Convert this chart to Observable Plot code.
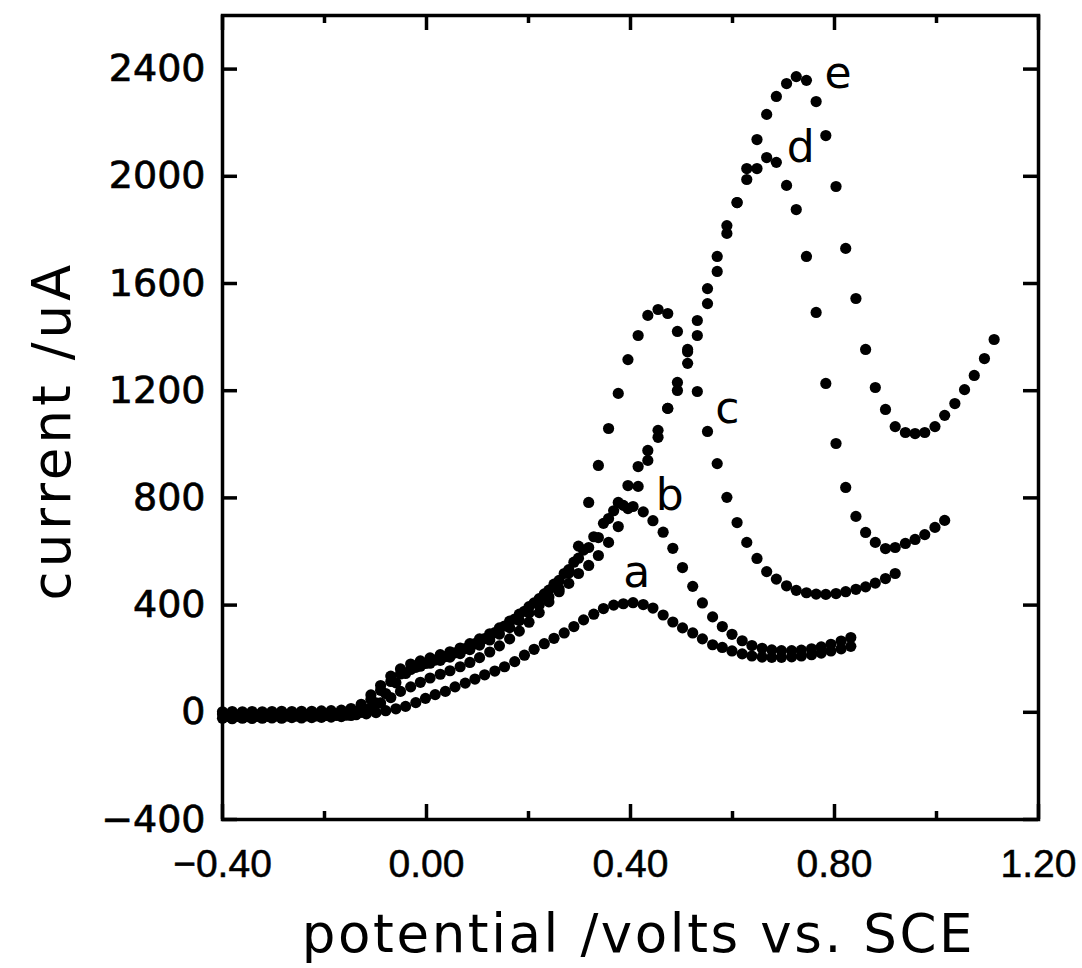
<!DOCTYPE html>
<html><head><meta charset="utf-8">
<script src="https://cdn.jsdelivr.net/npm/d3@7"></script>
<script src="https://cdn.jsdelivr.net/npm/@observablehq/plot@0.6"></script>
<style>
body{margin:0;background:#fff}
g[aria-label="y-axis tick label"] text{stroke:#000;stroke-width:0.7px}
g[aria-label="x-axis tick label"] text{stroke:#000;stroke-width:0.5px}
</style>
</head><body><div id="chart"></div>
<script>
// potentials (V vs SCE)
const potAB = [-0.390,-0.371,-0.351,-0.332,-0.312,-0.293,-0.274,-0.254,-0.235,-0.215,-0.196,-0.177,-0.157,-0.138,-0.118,-0.099,-0.080,-0.060,-0.041,-0.021,-0.002,0.017,0.037,0.056,0.076,0.095,0.114,0.134,0.153,0.173,0.192,0.211,0.231,0.250,0.270,0.289,0.308,0.328,0.347,0.367,0.386,0.405,0.425,0.444,0.464,0.483,0.502,0.522,0.541,0.561,0.580,0.599,0.619,0.638,0.658,0.677,0.696,0.716,0.735,0.755,0.774,0.793,0.813,0.832];
const potCDE = [-0.400,-0.381,-0.361,-0.342,-0.322,-0.303,-0.284,-0.264,-0.245,-0.225,-0.206,-0.187,-0.167,-0.148,-0.128,-0.109,-0.090,-0.070,-0.051,-0.031,-0.012,0.007,0.027,0.046,0.066,0.085,0.104,0.124,0.143,0.163,0.182,0.201,0.221,0.240,0.260,0.279,0.298,0.318,0.337,0.357,0.376,0.395,0.415,0.434,0.454,0.473,0.492,0.512,0.531,0.551,0.570,0.589,0.609,0.628,0.648,0.667,0.686,0.706,0.725,0.745,0.764,0.783,0.803,0.822,0.842,0.861,0.880,0.900,0.919,0.939,0.958,0.977,0.997,1.016,1.036,1.055,1.074,1.094,1.113];

// currents (uA)
const curA = [-15,-15,-16,-15,-15,-14,-14,-14,-13,-13,-12,-12,
  -11,-9,-6,-1,6,13,22,36,
  52,66,78,95,109,124,140,154,170,189,
  213,235,256,276,296,320,345,366,387,400,
  405,409,402,389,363,337,315,296,274,252,
  242,229,218,210,206,205,205,207,210,215,
  221,229,237,246];
const curB = [-10,-10,-11,-10,-10,-10,-9,-10,-9,-9,-9,-8,
  -8,-3,10,35,70,110,145,168,
  182,195,208,222,238,256,275,297,322,348,
  377,408,442,478,518,560,605,655,705,752,
  772,768,748,715,672,612,540,470,408,356,
  320,291,267,249,239,233,230,230,232,237,
  244,254,266,279];
const curC = [-22,-24,-22,-23,-22,-21,-22,-20,-21,-20,-19,-18,-16,-12,
  0,15,35,55,78,95,
  112,128,142,155,170,186,204,225,248,274,
  303,336,372,412,460,520,620,783,921,1059,
  1190,1316,1406,1481,1503,1488,1421,1302,1197,1048,
  928,802,708,634,574,525,497,472,455,446,
  441,440,443,450,459,468,482,499,518];
const curD = [-6,-6,-7,-6,-6,-6,-5,-6,-5,-5,-5,-4,-3,2,
  20,48,82,115,143,160,
  172,183,194,206,219,234,251,270,292,316,
  342,370,400,430,450,481,518,548,585,634,
  693,760,843,940,1026,1134,1201,1345,1406,1525,
  1645,1787,1902,1988,2029,2070,2052,1966,1876,1701,
  1492,1227,1003,839,731,671,634,611,615,630,
  645,663,690,716];
const curE = [2,3,2,3,2,3,4,3,4,4,5,6,8,14,
  30,65,100,135,162,180,
  192,203,215,226,240,256,274,293,315,340,
  366,394,424,456,492,532,575,615,652,723,
  783,846,917,977,1052,1134,1231,1354,1462,1581,
  1701,1816,1902,2029,2137,2231,2298,2346,2372,2358,
  2279,2152,1962,1731,1544,1354,1212,1130,1066,1044,
  1040,1044,1066,1108,1152,1204,1257,1320,1391];

const seriesNames = ["a","b","c","d","e"];
const seriesPot = [potAB, potAB, potCDE, potCDE, potCDE];
const seriesCur = [curA, curB, curC, curD, curE];

// curve labels (anchor = baseline centre)
const labelPot = [0.412, 0.477, 0.590, 0.734, 0.807];
const labelCur = [466, 753, 1078, 2052, 2328];

const xTicksMajor = [-0.4, 0, 0.4, 0.8, 1.2];
const xTicksMinor = [-0.2, 0.2, 0.6, 1.0];
const yTicks = [-400, 0, 400, 800, 1200, 1600, 2000, 2400];
const xTitle = "potential /volts vs. SCE";
const yTitle = "current /uA";

const points = seriesNames.flatMap((s, j) =>
  seriesCur[j].map((c, i) => ({series: s, potential: seriesPot[j][i], current: c})));
const labels = seriesNames.map((s, j) => ({name: s, potential: labelPot[j], current: labelCur[j]}));

const W = 1082, H = 968, mL = 222, mR = 44, mT = 15, mB = 149;
const iw = W - mL - mR, ih = H - mT - mB;

const chart = Plot.plot({
  width: W, height: H,
  marginLeft: mL, marginRight: mR, marginTop: mT, marginBottom: mB,
  style: {background: "white", color: "black", fontFamily: "DejaVu Sans"},
  x: {domain: [-0.4, 1.2]},
  y: {domain: [-400, 2600]},
  marks: [
    Plot.axisX(xTicksMajor, {anchor: "bottom", tickSize: 0, tickPadding: 30,
      tickFormat: d3.format(".2f"), fontSize: 39, fontFamily: "Liberation Sans", label: null}),
    Plot.axisY(yTicks, {anchor: "left", tickSize: 0, tickPadding: 17,
      tickFormat: d3.format("d"), fontSize: 38, fontFamily: "DejaVu Sans", label: null}),
    Plot.tickX(xTicksMajor, {x: d => d, insetTop: ih - 15, strokeWidth: 3.5}),
    Plot.tickX(xTicksMinor, {x: d => d, insetTop: ih - 8, strokeWidth: 3.5}),
    Plot.tickX(xTicksMajor, {x: d => d, insetBottom: ih - 15, strokeWidth: 3.5}),
    Plot.tickX(xTicksMinor, {x: d => d, insetBottom: ih - 8, strokeWidth: 3.5}),
    Plot.tickY(yTicks, {y: d => d, insetRight: iw - 15, strokeWidth: 3.5}),
    Plot.tickY(yTicks, {y: d => d, insetLeft: iw - 15, strokeWidth: 3.5}),
    Plot.frame({stroke: "black", strokeWidth: 3.5}),
    Plot.dot(points, {x: "potential", y: "current", r: 5.6, fill: "black", stroke: null}),
    Plot.text(labels, {x: "potential", y: "current", text: "name", fontSize: 44,
      fontFamily: "DejaVu Sans", lineAnchor: "bottom", textAnchor: "middle"}),
    Plot.text([xTitle], {frameAnchor: "bottom", dy: 132, lineAnchor: "bottom",
      textAnchor: "middle", fontSize: 53, fontFamily: "DejaVu Sans", dx: 8}),
    Plot.text([yTitle], {frameAnchor: "left", rotate: -90, dx: -153, dy: 13, lineAnchor: "bottom",
      textAnchor: "middle", fontSize: 53, fontFamily: "DejaVu Sans"})
  ]
});
document.getElementById("chart").appendChild(chart);
chart.querySelectorAll("text").forEach(t => {
  if (t.textContent === xTitle) t.setAttribute("letter-spacing", "2.6");
  if (t.textContent === yTitle) t.setAttribute("letter-spacing", "4");
});
</script>
</body></html>
